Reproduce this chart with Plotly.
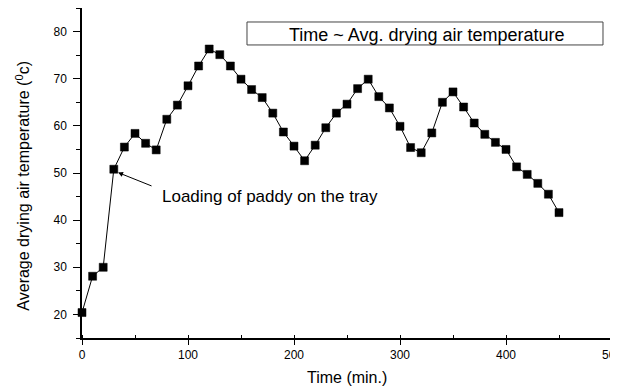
import plotly.graph_objects as go

time_min = [0, 10, 20, 30, 40, 50, 60, 70, 80, 90, 100, 110, 120, 130, 140, 150,
            160, 170, 180, 190, 200, 210, 220, 230, 240, 250, 260, 270, 280, 290,
            300, 310, 320, 330, 340, 350, 360, 370, 380, 390, 400, 410, 420, 430,
            440, 450]
avg_temp = [20.4, 28.1, 30.0, 50.8, 55.5, 58.4, 56.3, 54.9, 61.4, 64.4, 68.5, 72.7,
            76.3, 75.1, 72.7, 69.9, 67.7, 66.0, 62.7, 58.7, 55.7, 52.6, 55.9, 59.6,
            62.7, 64.6, 67.9, 69.9, 66.2, 63.8, 59.9, 55.4, 54.3, 58.5, 65.0, 67.2,
            64.0, 60.6, 58.2, 56.5, 55.0, 51.3, 49.7, 47.8, 45.5, 41.6]

x_ticks = [0, 100, 200, 300, 400, 500]
y_ticks = [20, 30, 40, 50, 60, 70, 80]

FONT = "Arial, 'Liberation Sans', sans-serif"

# page body has an 8px margin, so the figure is sized to end at the window edge
fig = go.Figure()
fig.add_trace(go.Scatter(
    x=time_min, y=avg_temp, mode="lines+markers",
    line=dict(color="black", width=1),
    marker=dict(symbol="square", size=8, color="black",
                line=dict(color="black", width=0.5)),
    showlegend=False, cliponaxis=False,
))

fig.update_layout(
    width=610, height=381,
    margin=dict(l=74, r=6, t=0, b=51, autoexpand=False),
    paper_bgcolor="white", plot_bgcolor="white",
    font=dict(family=FONT, color="black"),
    xaxis=dict(
        range=[0, 500], tickvals=x_ticks, ticktext=[str(v) for v in x_ticks],
        showgrid=False, zeroline=False, showline=True, linecolor="black",
        linewidth=1.5, ticks="outside", ticklen=5, tickwidth=1.2,
        tickcolor="black", tickfont=dict(size=12, family=FONT),
        ticklabeloverflow="allow", automargin=False,
        minor=dict(dtick=50, tick0=0, ticks="inside", ticklen=3,
                   tickcolor="black", tickwidth=1.2, showgrid=False),
    ),
    yaxis=dict(
        range=[15, 85], tickvals=y_ticks, ticktext=[str(v) for v in y_ticks],
        showgrid=False, zeroline=False, showline=True, linecolor="black",
        linewidth=1.5, ticks="outside", ticklen=7, tickwidth=1.2,
        tickcolor="black", tickfont=dict(size=12, family=FONT),
        ticklabelstandoff=4, automargin=False,
        minor=dict(dtick=5, tick0=0, ticks="outside", ticklen=4,
                   tickcolor="black", tickwidth=1.2, showgrid=False),
    ),
)

# title box
fig.add_shape(type="rect", xref="paper", yref="paper",
              x0=0.3113, x1=0.983, y0=0.888, y1=0.9576,
              line=dict(color="#444444", width=1), fillcolor="white")
fig.add_annotation(xref="paper", yref="paper", x=0.65, y=0.919,
                   text="Time ~ Avg. drying air temperature", showarrow=False,
                   xanchor="center", yanchor="middle",
                   font=dict(size=18, family=FONT, color="black"))

# axis titles
fig.add_annotation(xref="paper", yref="paper", x=0.5, y=-0.121,
                   text="Time (min.)", showarrow=False,
                   xanchor="center", yanchor="middle",
                   font=dict(size=16, family=FONT, color="black"))
fig.add_annotation(xref="paper", yref="paper", x=-0.112, y=0.4606,
                   text="Average drying air temperature (<sup>0</sup>c)",
                   showarrow=False, textangle=-90,
                   xanchor="center", yanchor="middle",
                   font=dict(size=16, family=FONT, color="black"))

# callout
fig.add_annotation(x=34, y=50.1, xref="x", yref="y", text="",
                   showarrow=True, arrowhead=2, arrowsize=1, arrowwidth=1,
                   arrowcolor="black", ax=35, ay=14, standoff=0)
fig.add_annotation(x=73.6, y=45.0, xref="x", yref="y",
                   text="Loading of paddy on the tray", showarrow=False,
                   xanchor="left", yanchor="middle",
                   font=dict(size=17, family=FONT, color="black"))

fig.write_html("out.html")
